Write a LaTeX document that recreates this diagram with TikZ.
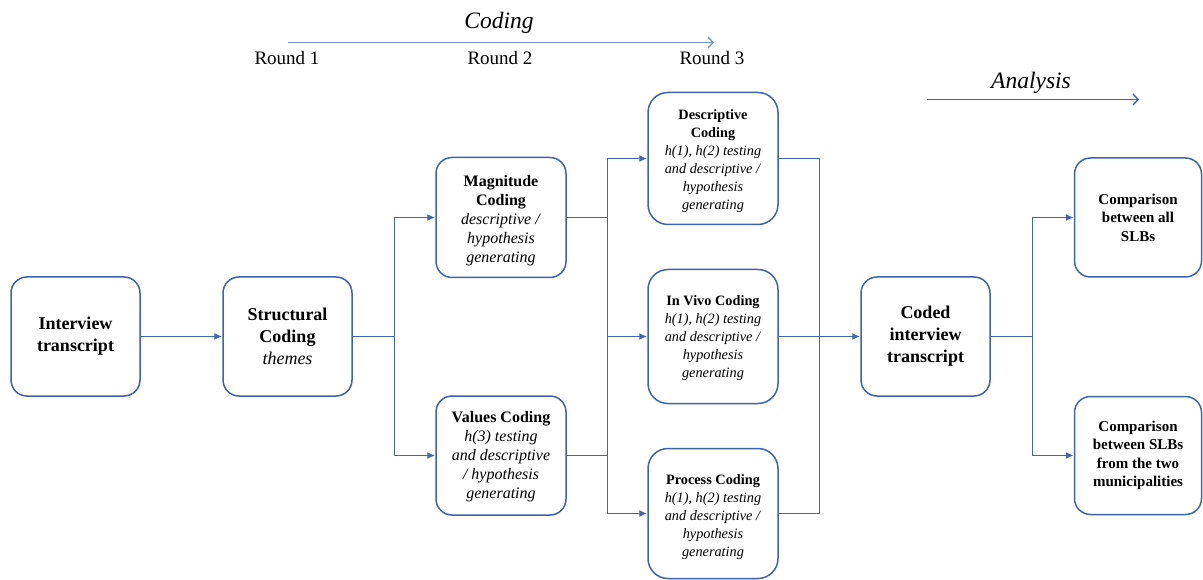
\documentclass[tikz,border=0pt]{standalone}
\usepackage{fontspec}
\setmainfont{Liberation Serif}
\usetikzlibrary{arrows.meta}
\definecolor{boxblue}{RGB}{62,100,176}
\definecolor{lineblue}{RGB}{66,102,176}
\definecolor{lightarrow}{RGB}{120,150,205}
\begin{document}
\begin{tikzpicture}[x=1pt,y=-1pt,
  box/.style={draw=boxblue, line width=1.5pt, rounded corners=16pt, align=center, inner sep=0pt},
  txt/.style={align=center, inner sep=0pt},
  big/.style={font=\fontsize{18}{22}\selectfont},
  mid/.style={font=\fontsize{16}{19}\selectfont},
  small/.style={font=\fontsize{14.3}{18}\selectfont},
  cmp/.style={font=\fontsize{15}{18.5}\selectfont},
  conn/.style={draw=lineblue, line width=1.6pt},
  arr/.style={conn, -{Latex[length=8pt,width=7pt]}},
  toparr/.style={line width=1.4pt, -{Straight Barb[length=5pt,width=11pt]}},
  lbl/.style={inner sep=0pt, anchor=center}
]
\useasboundingbox (0,0) rectangle (1203,580);

% top labels
\node[lbl, font=\fontsize{23.5}{26}\selectfont\itshape] (codinglbl) at (499,23) {Coding};
\coordinate (ca1) at (288,42.5);
\coordinate (ca2) at (714,42.5);
\draw[toparr, lightarrow] (ca1) -- (ca2);
\node[lbl, font=\fontsize{19}{22}\selectfont] (r1) at (287,58.5) {Round 1};
\node[lbl, font=\fontsize{19}{22}\selectfont] (r2) at (500,58.5) {Round 2};
\node[lbl, font=\fontsize{19}{22}\selectfont] (r3) at (712,58.5) {Round 3};
\node[lbl, font=\fontsize{23.5}{26}\selectfont\itshape] (analysislbl) at (1031,83) {Analysis};
\coordinate (aa1) at (927,99.5);
\coordinate (aa2) at (1139,99.5);
\draw[toparr, boxblue] (aa1) -- (aa2);

% boxes
\node[box, big, minimum width=129pt, minimum height=119pt] (it) at (75.5,336.5)
  {\textbf{Interview}\\\textbf{transcript}};
\node[box, big, minimum width=129pt, minimum height=119pt] (sc) at (287.5,336.5)
  {\textbf{Structural}\\\textbf{Coding}\\\textit{themes}};
\node[box, minimum width=130pt, minimum height=120pt] (mc) at (501,217.5) {};
\node[txt, mid] (mct) at ([yshift=-3pt]mc.center)
  {\textbf{Magnitude}\\\textbf{Coding}\\\textit{descriptive /}\\\textit{hypothesis}\\\textit{generating}};
\node[box, minimum width=130pt, minimum height=119pt] (vc) at (501,455.5) {};
\node[txt, mid] (vct) at ([yshift=-1pt]vc.center)
  {\textbf{Values Coding}\\\textit{h(3) testing}\\\textit{and descriptive}\\\textit{/ hypothesis}\\\textit{generating}};
\node[box, rounded corners=20pt, minimum width=130pt, minimum height=132pt] (dc) at (713,158.5) {};
\node[txt, small] (dct) at ([yshift=-3pt]dc.center)
  {\textbf{Descriptive}\\\textbf{Coding}\\\textit{h(1), h(2) testing}\\\textit{and descriptive /}\\\textit{hypothesis}\\\textit{generating}};
\node[box, rounded corners=20pt, minimum width=130pt, minimum height=134pt] (iv) at (713,336.5) {};
\node[txt, small] (ivt) at ([yshift=-2pt]iv.center)
  {\textbf{In Vivo Coding}\\\textit{h(1), h(2) testing}\\\textit{and descriptive /}\\\textit{hypothesis}\\\textit{generating}};
\node[box, rounded corners=20pt, minimum width=130pt, minimum height=130pt] (pc) at (713,513.5) {};
\node[txt, small] (pct) at ([yshift=-4pt]pc.center)
  {\textbf{Process Coding}\\\textit{h(1), h(2) testing}\\\textit{and descriptive /}\\\textit{hypothesis}\\\textit{generating}};
\node[box, big, minimum width=129pt, minimum height=119pt] (cd) at (925.5,336.5)
  {\textbf{Coded}\\\textbf{interview}\\\textbf{transcript}};
\node[box, cmp, minimum width=127pt, minimum height=119pt] (cA) at (1138,217.5)
  {\textbf{Comparison}\\\textbf{between all}\\\textbf{SLBs}};
\node[box, cmp, minimum width=127pt, minimum height=118pt] (cB) at (1138,455.5)
  {\textbf{Comparison}\\\textbf{between SLBs}\\\textbf{from the two}\\\textbf{municipalities}};

% junctions
\coordinate (j1) at (394.5,336.5);
\coordinate (j2) at (607.5,336.5);
\coordinate (j3) at (819.5,336.5);
\coordinate (j4) at (1032.5,336.5);

% connectors
\draw[arr] (it) -- (sc);
\draw[conn] (sc.east) -- (j1);
\draw[arr] (j1) |- (mc.west);
\draw[arr] (j1) |- (vc.west);

\draw[conn] (mc.east) -| (j2);
\draw[conn] (vc.east) -| (j2);
\draw[arr] (j2) |- (dc.west);
\draw[arr] (j2) -- (iv.west);
\draw[arr] (j2) |- (pc.west);

\draw[conn] (dc.east) -| (j3);
\draw[conn] (iv.east) -- (j3);
\draw[conn] (pc.east) -| (j3);
\draw[arr] (j3) -- (cd.west);

\draw[conn] (cd.east) -- (j4);
\draw[arr] (j4) |- (cA.west);
\draw[arr] (j4) |- (cB.west);
\end{tikzpicture}
\end{document}
